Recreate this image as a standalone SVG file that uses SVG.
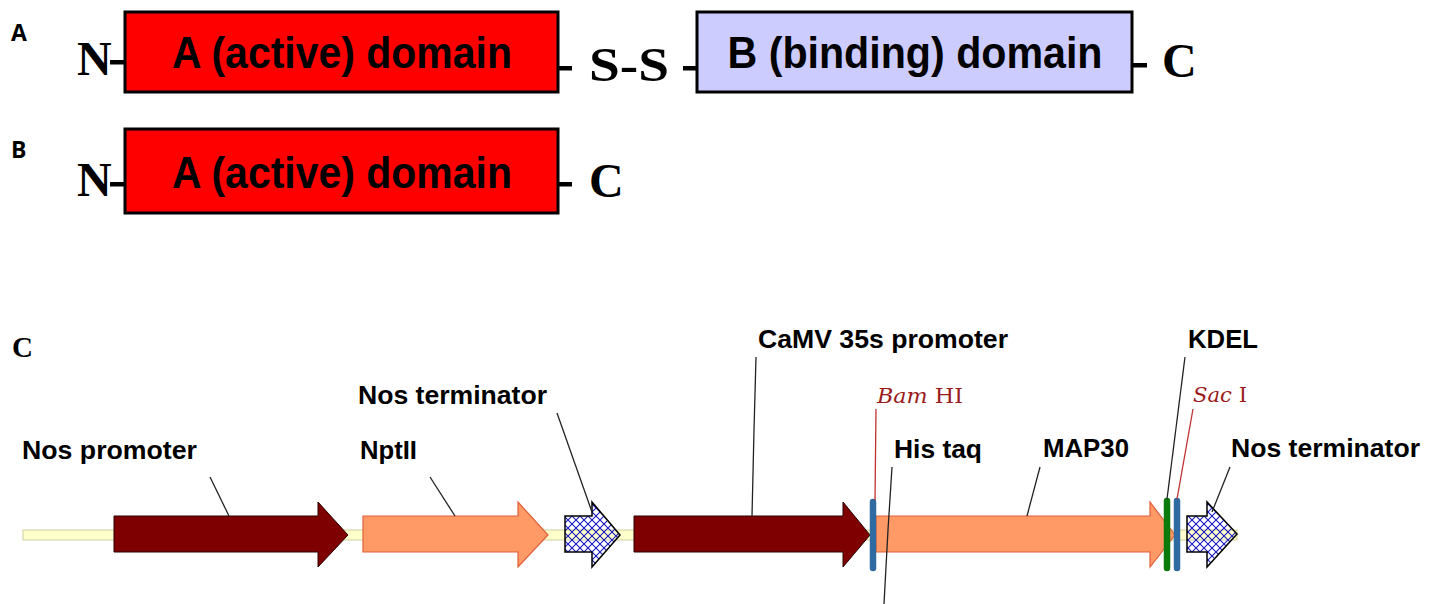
<svg xmlns="http://www.w3.org/2000/svg" width="1437" height="604" viewBox="0 0 1437 604">
<style>
.dom{stroke:#000;stroke-width:3}
.dtxt{font-family:"Liberation Sans",Arial,sans-serif;font-weight:bold;font-size:45px;fill:#000;text-anchor:middle}
.term{font-family:"Liberation Serif","Times New Roman",serif;font-weight:bold;font-size:48px;fill:#000}
.pl{font-family:"Open Sans","Liberation Sans",sans-serif;font-weight:bold;font-size:23px;fill:#000}
.lab{font-family:"Liberation Sans",Arial,sans-serif;font-weight:bold;font-size:26px;fill:#000}
.site{font-family:"DejaVu Serif","Liberation Serif",serif;font-size:20px;fill:#9B1B1B}
.lead{stroke:#222;stroke-width:1.3;fill:none}
.rlead{stroke:#C03030;stroke-width:1.3;fill:none}
.dash{fill:#000}
.dr{fill:#7F0000;stroke:#2a0000;stroke-width:1}
.or{fill:#FF9966;stroke:#E0603A;stroke-width:1.2}
.ht{fill:url(#hatch);stroke:#000;stroke-width:1.5}
</style>
<defs>
<pattern id="hatch" patternUnits="userSpaceOnUse" width="8" height="8">
<path d="M0,0 L8,8 M8,0 L0,8" stroke="#1818C0" stroke-width="1.1"/>
</pattern>
</defs>

<!-- Panel labels -->
<text class="pl" x="11" y="41">A</text>
<text class="pl" x="11" y="158">B</text>
<text x="12" y="357" font-family="Liberation Serif,Times New Roman,serif" font-weight="bold" font-size="29" fill="#000">C</text>

<!-- Panel A -->
<g id="rowA-N"><text class="term" x="77" y="75">N</text><rect class="dash" x="110" y="60" width="15" height="4.5"/></g>
<g id="rowA-Adomain">
<rect class="dom" x="125" y="12" width="433" height="80" fill="#FF0000"/>
<text class="dtxt" x="342" y="68" textLength="340" lengthAdjust="spacingAndGlyphs">A (active) domain</text>
</g>
<g id="rowA-SS">
<rect class="dash" x="559" y="66" width="13" height="4.5"/>
<text class="term" x="589" y="81" textLength="80" lengthAdjust="spacingAndGlyphs">S-S</text>
<rect class="dash" x="683" y="66" width="14" height="4.5"/>
</g>
<g id="rowA-Bdomain">
<rect class="dom" x="697" y="12" width="435" height="80" fill="#CCCCFF"/>
<text class="dtxt" x="915" y="68" textLength="375" lengthAdjust="spacingAndGlyphs">B (binding) domain</text>
</g>
<g id="rowA-C"><rect class="dash" x="1133" y="63" width="14" height="4.5"/><text class="term" x="1162" y="77">C</text></g>

<!-- Panel B -->
<g id="rowB-N"><text class="term" x="77" y="196">N</text><rect class="dash" x="110" y="182" width="15" height="4.5"/></g>
<g id="rowB-Adomain">
<rect class="dom" x="125" y="129" width="433" height="84" fill="#FF0000"/>
<text class="dtxt" x="342" y="188" textLength="340" lengthAdjust="spacingAndGlyphs">A (active) domain</text>
</g>
<g id="rowB-C"><rect class="dash" x="559" y="182" width="13" height="4.5"/><text class="term" x="589" y="197">C</text></g>

<!-- Panel C -->
<g id="backbone"><rect x="23" y="530" width="1214" height="10" fill="#FFFFCC" stroke="#D0D0A0" stroke-width="1"/></g>

<g id="nos-promoter">
<polygon class="dr" points="114,516 318,516 318,502 348,535 318,567 318,552 114,552"/>
<text class="lab" x="22" y="459" textLength="175" lengthAdjust="spacingAndGlyphs">Nos promoter</text>
</g>
<g id="nptii">
<polygon class="or" points="363,516 518,516 518,502 548,535 518,567 518,552 363,552"/>
<text class="lab" x="360" y="459" textLength="57" lengthAdjust="spacingAndGlyphs">NptII</text>
</g>
<g id="nos-terminator-1">
<polygon class="ht" points="565,516 592,516 592,502 620,535 592,567 592,552 565,552"/>
<text class="lab" x="358" y="404" textLength="189" lengthAdjust="spacingAndGlyphs">Nos terminator</text>
</g>
<g id="camv-promoter">
<polygon class="dr" points="634,516 843,516 843,502 870,535 843,567 843,552 634,552"/>
<text class="lab" x="758" y="348" textLength="250" lengthAdjust="spacingAndGlyphs">CaMV 35s promoter</text>
</g>
<g id="map30">
<polygon class="or" points="876,516 1150,516 1150,502 1175,535 1150,567 1150,552 876,552"/>
<text class="lab" x="1043" y="457" textLength="86" lengthAdjust="spacingAndGlyphs">MAP30</text>
</g>
<g id="nos-terminator-2">
<polygon class="ht" points="1187,516 1207,516 1207,502 1237,534 1207,567 1207,552 1187,552"/>
<text class="lab" x="1231" y="457" textLength="189" lengthAdjust="spacingAndGlyphs">Nos terminator</text>
</g>
<g id="bamhi">
<line x1="873" y1="502" x2="873" y2="568" stroke="#2F6BA0" stroke-width="6.5" stroke-linecap="round"/>
<text class="site" x="877" y="403" textLength="86" lengthAdjust="spacingAndGlyphs"><tspan font-style="italic">Bam</tspan> HI</text>
</g>
<g id="his-taq">
<text class="lab" x="894" y="458" textLength="88" lengthAdjust="spacingAndGlyphs">His taq</text>
</g>
<g id="kdel">
<line x1="1167" y1="501" x2="1167" y2="568" stroke="#0A7A0A" stroke-width="6.5" stroke-linecap="round"/>
<text class="lab" x="1188" y="348" textLength="70" lengthAdjust="spacingAndGlyphs">KDEL</text>
</g>
<g id="saci">
<line x1="1177" y1="501" x2="1177" y2="568" stroke="#2F6BA0" stroke-width="6.5" stroke-linecap="round"/>
<text class="site" x="1193" y="402" textLength="54" lengthAdjust="spacingAndGlyphs"><tspan font-style="italic">Sac</tspan> I</text>
</g>

<g id="connectors">
<line class="lead" x1="210" y1="477" x2="229" y2="516"/>
<line class="lead" x1="430" y1="477" x2="455" y2="516"/>
<line class="lead" x1="557" y1="413" x2="592" y2="512"/>
<polyline class="lead" points="756,357 754,430 752,516"/>
<line class="rlead" x1="876" y1="409" x2="875" y2="500"/>
<polyline class="lead" points="892,467 888,530 884,604"/>
<line class="lead" x1="1040" y1="467" x2="1027" y2="516"/>
<line class="lead" x1="1185" y1="357" x2="1167" y2="499"/>
<line class="rlead" x1="1193" y1="409" x2="1177" y2="499"/>
<line class="lead" x1="1230" y1="467" x2="1212" y2="512"/>
</g>
</svg>
